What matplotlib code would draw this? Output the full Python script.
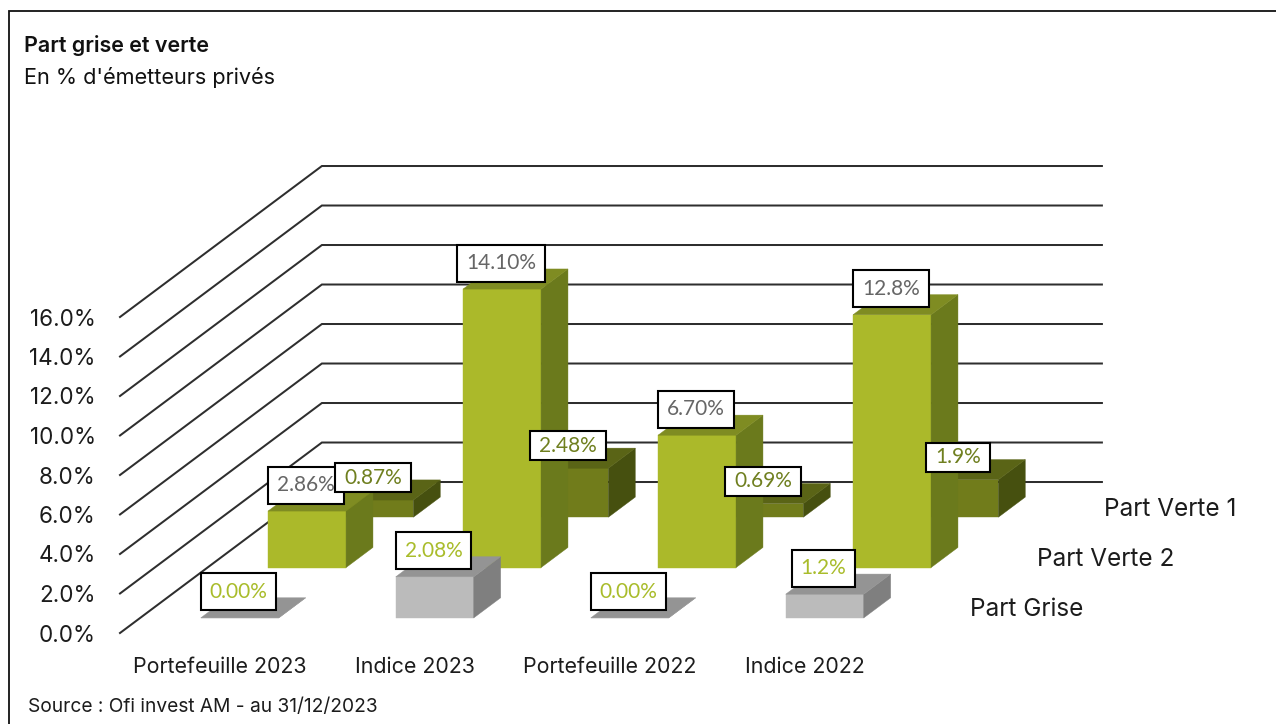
import matplotlib
matplotlib.use("Agg")
import matplotlib.pyplot as plt
from matplotlib.lines import Line2D
from matplotlib.path import Path
from matplotlib.patches import Polygon

# Values in percent, one list per row of bars
categories = ["Portefeuille 2023", "Indice 2023", "Portefeuille 2022", "Indice 2022"]
part_grise = [0.00, 2.08, 0.00, 1.2]
part_verte_2 = [2.86, 14.10, 6.70, 12.8]
part_verte_1 = [0.87, 2.48, 0.69, 1.9]
labels_grise = ["0.00%", "2.08%", "0.00%", "1.2%"]
labels_verte_2 = ["2.86%", "14.10%", "6.70%", "12.8%"]
labels_verte_1 = ["0.87%", "2.48%", "0.69%", "1.9%"]
row_names = ["Part Grise", "Part Verte 2", "Part Verte 1"]
y_ticks = [0, 2, 4, 6, 8, 10, 12, 14, 16]

W, H = 1276, 724
UI_FONT = "Inter"
LABEL_FONT = "Lato"
GRID = "#2e2e2e"
INK = "#1c1c1c"

fig = plt.figure(figsize=(W / 100, H / 100), dpi=100, facecolor="white")
ax = fig.add_axes([120 / W, 1 - 633 / H, 780 / W, 316 / H], facecolor="none")
ax.set_xlim(-0.5105, 3.4895)
ax.set_ylim(0, 16)
for side in ax.spines.values():
    side.set_visible(False)

# Oblique depth: one row shifts the drawing right and up by these data amounts
DX = 67.3 / 195
DY = 50.33 / 19.75
ROWS = 3
BAR_W = 0.4
BAR_D = 0.4


def project(x, v, d):
    return x + d * DX, v + d * DY


# Wall gridlines with their diagonals across the side wall
x0, x1 = ax.get_xlim()
for v in y_ticks:
    pts = [project(x0, v, 0), project(x0, v, ROWS), project(x1, v, ROWS)]
    ax.plot(*zip(*pts), color=GRID, lw=1.45, clip_on=False, zorder=1,
            solid_joinstyle="miter")


def box3d(c, v, row, front, side, top, z):
    d0, d1 = row + 0.3, row + 0.3 + BAR_D
    xl, xr = c - BAR_W / 2, c + BAR_W / 2
    faces = [
        ([(xl, 0, d0), (xr, 0, d0), (xr, v, d0), (xl, v, d0)], front),
        ([(xr, 0, d0), (xr, 0, d1), (xr, v, d1), (xr, v, d0)], side),
        ([(xl, v, d0), (xr, v, d0), (xr, v, d1), (xl, v, d1)], top),
    ]
    for corners, col in faces:
        ax.add_patch(Polygon([project(*p) for p in corners], closed=True, facecolor=col,
                             edgecolor=col, lw=0.3, clip_on=False, zorder=z))


def fixed_box(pad_x, height):
    # Box style with a set height and a horizontal margin around the text, in pixels
    def style(x, y, w, h, mutation_size):
        cy = y + h / 2
        a, b = x - pad_x, x + w + pad_x
        c, d = cy - height / 2, cy + height / 2
        return Path([(a, c), (b, c), (b, d), (a, d), (a, c)], closed=True)
    return style


series = [
    # back to front: values, labels, row, faces, label colour, box height, label lift
    (part_verte_1, labels_verte_1, 2, ("#717C1B", "#46500F", "#5A6416"), "#6F7F1F", 29, 22.5),
    (part_verte_2, labels_verte_2, 1, ("#ABB92A", "#6B7A1C", "#7F8C22"), "#666666", 37, 26),
    (part_grise, labels_grise, 0, ("#BBBBBB", "#7F7F7F", "#949494"), "#A9BC2B", 37, 26),
]

for zbase, (vals, _, row, faces, _, _, _) in enumerate(series):
    for c, v in enumerate(vals):
        box3d(c, v, row, *faces, z=2 + zbase + c * 0.1)

# Value labels on top of every bar; darkest row last so its boxes overlap the others
for vals, texts, row, _, col, bh, lift in [series[2], series[1], series[0]]:
    for c, (v, t) in enumerate(zip(vals, texts)):
        ax.annotate(t, xy=project(c, v, row + 0.3), xytext=(-0.9, lift * 0.72),
                    textcoords="offset points", ha="center", va="center",
                    fontsize=15, family=LABEL_FONT, color=col, zorder=10,
                    annotation_clip=False,
                    bbox=dict(boxstyle=fixed_box(9, bh), facecolor="white",
                              edgecolor="black", linewidth=1.5))

# Axis tick labels
ax.set_yticks(y_ticks)
ax.set_yticklabels([f"{v:.1f}%" for v in y_ticks])
ax.set_xticks(range(len(categories)))
ax.set_xticklabels(categories)
ax.tick_params(axis="y", length=0, pad=17.5, labelsize=16.2, labelcolor=INK)
ax.tick_params(axis="x", length=0, pad=17.5, labelsize=15.4, labelcolor=INK)
for lab in ax.get_xticklabels() + ax.get_yticklabels():
    lab.set_family(UI_FONT)

# Row names along the depth direction
for row, name in enumerate(row_names):
    ax.annotate(name, xy=project(x1, 0, row + 0.5), xytext=(26, -1.4),
                textcoords="offset points", ha="left", va="center",
                fontsize=17.5, family=UI_FONT, color=INK, annotation_clip=False)

# Titles and source
fig.text(24 / W, 1 - 46 / H, "Part grise et verte", fontsize=15.5, family=UI_FONT,
         weight="semibold", color="#111111", va="center")
fig.text(24 / W, 1 - 78 / H, "En % d'émetteurs privés", fontsize=15.6, family=UI_FONT,
         color="#111111", va="center")
fig.text(28 / W, 1 - 707 / H, "Source : Ofi invest AM - au 31/12/2023", fontsize=13.8,
         family=UI_FONT, color=INK, va="center")

# Outer frame
fig.add_artist(Line2D([9 / W, 9 / W, 1], [0, 1 - 11 / H, 1 - 11 / H], color="#111111",
                      lw=1.3, solid_joinstyle="miter"))

fig.savefig("out.png", dpi=100)
